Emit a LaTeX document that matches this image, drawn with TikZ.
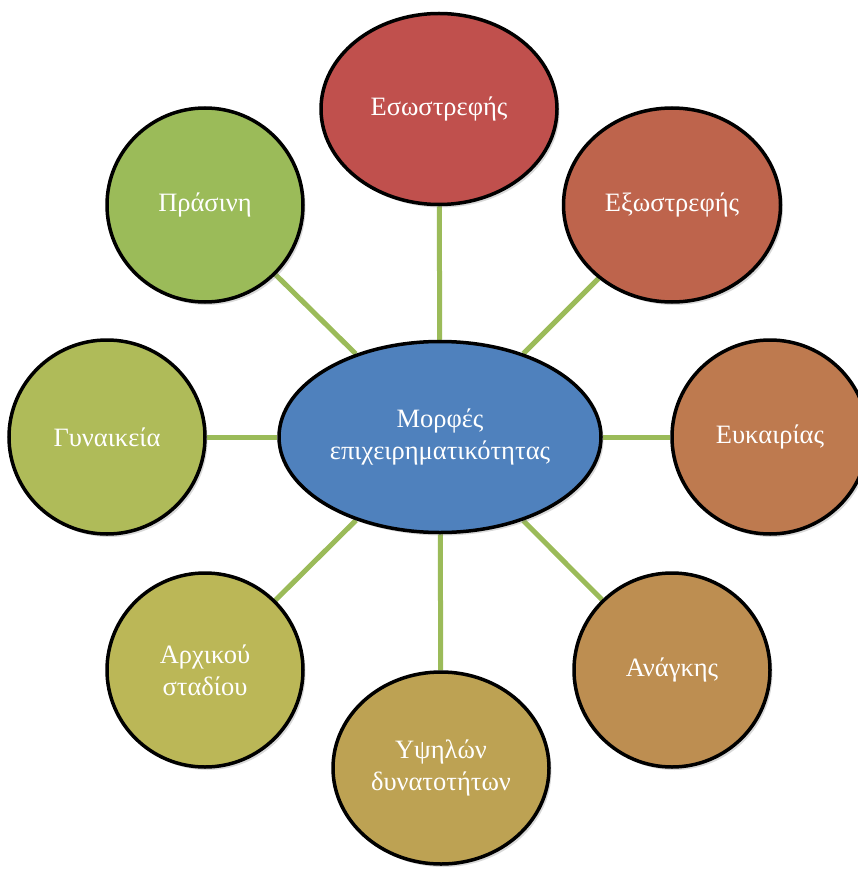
\documentclass[tikz,border=0pt]{standalone}
\usepackage{fontspec}
\setmainfont{Liberation Serif}
\usepackage{xcolor}
\usepackage{tikz}
\usetikzlibrary{shapes.geometric,shadows,backgrounds,positioning}

\definecolor{kentro}{HTML}{4F81BD}
\definecolor{aktina}{HTML}{9BBB59}
\definecolor{esw}{HTML}{C0504D}
\definecolor{exw}{HTML}{BE644C}
\definecolor{euk}{HTML}{BE7A4F}
\definecolor{anag}{HTML}{BD8E51}
\definecolor{ypsi}{HTML}{BDA253}
\definecolor{arxi}{HTML}{BBB757}
\definecolor{gyna}{HTML}{AFBB59}
\definecolor{pras}{HTML}{9BBB59}

\begin{document}
\begin{tikzpicture}[x=1pt,y=-1pt,
    morfi/.style={ellipse, draw=black, line width=3.5pt, text=white,
        font=\fontsize{26.5}{32}\selectfont, align=center, inner sep=0pt,
        drop shadow={shadow xshift=2.5pt, shadow yshift=-3pt, opacity=0.3}},
    kyklos/.style={morfi, minimum width=196pt, minimum height=194pt},
    spoke/.style={draw=aktina, line width=5pt}]
    \useasboundingbox (0,0) rectangle (858,869);

    % Kentriko ellipse
    \node[morfi, fill=kentro, minimum width=322pt, minimum height=191pt] (morfes) at (440,437)
        {Μορφές\\επιχειρηματικότητας};

    % Oi kykloi gyro gyro
    \node[morfi, fill=esw, minimum width=236pt, minimum height=191pt] (eswstr) at (439,109) {Εσωστρεφής};
    \node[morfi, fill=exw, minimum width=217pt, minimum height=194pt] (exwstr) at (672,205) {Εξωστρεφής};
    \node[kyklos, fill=euk] (eukair) at (770,437) {Ευκαιρίας};
    \node[kyklos, fill=anag] (anagk) at (672,670) {Ανάγκης};
    \node[morfi, fill=ypsi, minimum width=216pt, minimum height=192pt] (ypsil) at (441,768) {Υψηλών\\δυνατοτήτων};
    \node[kyklos, fill=arxi] (arxik) at (205,670) {Αρχικού\\σταδίου};
    \node[kyklos, fill=gyna] (gynaik) at (107,437) {Γυναικεία};
    \node[kyklos, fill=pras] (prasin) at (205,205) {Πράσινη};

    % Aktines (piso apo tous kyklous)
    \begin{scope}[on background layer]
        \foreach \n in {eswstr,exwstr,eukair,anagk,ypsil,arxik,gynaik,prasin}
            \draw[spoke] (morfes) -- (\n);
    \end{scope}
\end{tikzpicture}
\end{document}
